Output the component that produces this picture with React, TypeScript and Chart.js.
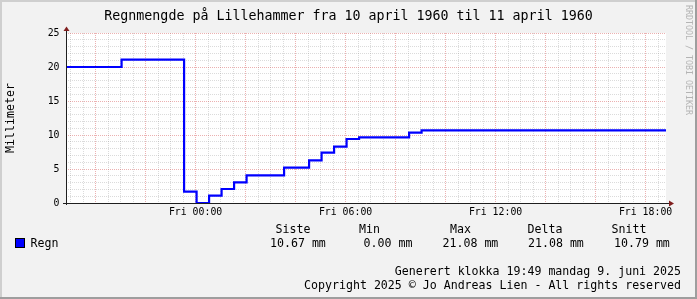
import React, { useEffect, useRef } from 'react';
import { Chart, registerables } from 'chart.js';

Chart.register(...registerables);

// ---------- data ----------
const title = 'Regnmengde på Lillehammer fra 10 april 1960 til 11 april 1960';
const yAxisTitle = 'Millimeter';
const seriesName = 'Regn';
// hours relative to Fri 00:00 at which each value starts
const stepHours = [-5.1833, -2.96, -0.46, 0.04, 0.54, 1.04, 1.54, 2.04, 3.54, 4.54, 5.04, 5.54, 6.04, 6.54, 8.54, 9.04, 18.8167];
const rainMm = [20.0, 21.08, 1.66, 0.0, 1.07, 2.06, 3.04, 4.07, 5.19, 6.28, 7.4, 8.28, 9.41, 9.65, 10.35, 10.67, 10.67];
const xLabelHours = [0, 6, 12, 18];
const xLabels = ['Fri 00:00', 'Fri 06:00', 'Fri 12:00', 'Fri 18:00'];
const yLabelValues = [0, 5, 10, 15, 20, 25];
const yLabels = ['0', '5', '10', '15', '20', '25'];
const legendHeaders = ['Siste', 'Min', 'Max', 'Delta', 'Snitt'];
const legendValues = ['10.67 mm', '0.00 mm', '21.08 mm', '21.08 mm', '10.79 mm'];
const footerLines = [
  'Generert klokka 19:49 mandag 9. juni 2025',
  'Copyright 2025 © Jo Andreas Lien - All rights reserved',
];
const watermark = 'RRDTOOL / TOBI OETIKER';

// ---------- layout / style ----------
const W = 697;
const H = 299;
const X_MIN = -5.1833;
const X_MAX = 18.8167;
const FONT = '"DejaVu Sans Mono", monospace';
const BACK = '#f2f2f2';
const SHADEA = '#cfcfcf';
const SHADEB = '#9e9e9e';
const GRID = 'rgba(143,143,143,0.32)';
const MGRID = 'rgba(210,70,70,0.42)';
const AXIS = '#1f1f1f';
const ARROW = '#801f1f';
const LINE = '#0000ff';

const headerX = [275.5, 359, 450, 527.5, 611.5];
const valueX = [270, 363.5, 442.5, 528, 614];

const decor = {
  id: 'rrdDecor',
  beforeDraw(chart: any) {
    const { ctx, chartArea: a } = chart;
    ctx.save();
    ctx.fillStyle = BACK;
    ctx.fillRect(0, 0, W, H);
    ctx.fillStyle = SHADEA;
    ctx.fillRect(0, 0, W, 2);
    ctx.fillRect(0, 0, 2, H);
    ctx.fillStyle = SHADEB;
    ctx.fillRect(0, H - 2, W, 2);
    ctx.fillRect(W - 2, 0, 2, H);
    ctx.fillStyle = '#ffffff';
    ctx.fillRect(a.left, a.top, a.right - a.left, a.bottom - a.top);
    ctx.restore();
  },
  afterDraw(chart: any) {
    const { ctx, chartArea: a } = chart;
    ctx.save();
    // axes
    ctx.strokeStyle = AXIS;
    ctx.lineWidth = 1;
    ctx.beginPath();
    ctx.moveTo(a.left + 0.5, a.bottom + 2);
    ctx.lineTo(a.left + 0.5, a.top - 4);
    ctx.moveTo(a.left - 3, a.bottom + 0.5);
    ctx.lineTo(a.right + 4, a.bottom + 0.5);
    ctx.stroke();
    // arrows
    ctx.fillStyle = ARROW;
    ctx.beginPath();
    ctx.moveTo(a.left + 0.5, a.top - 6.5);
    ctx.lineTo(a.left - 2.5, a.top - 2);
    ctx.lineTo(a.left + 3.5, a.top - 2);
    ctx.closePath();
    ctx.fill();
    ctx.beginPath();
    ctx.moveTo(a.right + 8, a.bottom + 0.5);
    ctx.lineTo(a.right + 3, a.bottom - 2.5);
    ctx.lineTo(a.right + 3, a.bottom + 3.5);
    ctx.closePath();
    ctx.fill();

    ctx.fillStyle = '#000';
    ctx.textBaseline = 'alphabetic';
    // title
    ctx.font = `13.3px ${FONT}`;
    ctx.textAlign = 'center';
    ctx.fillText(title, W / 2, 20);
    // y axis title
    ctx.save();
    ctx.font = `11.6px ${FONT}`;
    ctx.translate(10.5, (a.top + a.bottom) / 2);
    ctx.rotate(-Math.PI / 2);
    ctx.textBaseline = 'middle';
    ctx.textAlign = 'center';
    ctx.fillText(yAxisTitle, 0, 0);
    ctx.restore();
    // legend
    ctx.font = `11.6px ${FONT}`;
    ctx.textAlign = 'left';
    legendHeaders.forEach((t, i) => ctx.fillText(t, headerX[i], 233));
    legendValues.forEach((t, i) => ctx.fillText(t, valueX[i], 247));
    ctx.fillStyle = '#000';
    ctx.fillRect(15, 238, 10, 10);
    ctx.fillStyle = LINE;
    ctx.fillRect(16, 239, 8, 8);
    ctx.fillStyle = '#000';
    ctx.fillText(seriesName, 30.5, 247);
    // footer
    ctx.textAlign = 'right';
    ctx.fillText(footerLines[0], 681, 275);
    ctx.fillText(footerLines[1], 681, 289);
    // watermark
    ctx.save();
    ctx.font = `8.3px ${FONT}`;
    ctx.fillStyle = '#b4b4b4';
    ctx.translate(688.5, 5);
    ctx.rotate(Math.PI / 2);
    ctx.textAlign = 'left';
    ctx.textBaseline = 'middle';
    ctx.fillText(watermark, 0, 0);
    ctx.restore();
    ctx.restore();
  },
};

export default function App() {
  const ref = useRef<HTMLCanvasElement>(null);
  useEffect(() => {
    const points = stepHours.map((h, i) => ({ x: h, y: rainMm[i] }));
    const chart = new Chart(ref.current as HTMLCanvasElement, {
      type: 'line',
      data: {
        datasets: [
          {
            label: seriesName,
            data: points,
            borderColor: LINE,
            backgroundColor: LINE,
            borderWidth: 2.2,
            stepped: 'before',
            pointRadius: 0,
            fill: false,
            tension: 0,
          },
        ],
      },
      options: {
        animation: false,
        responsive: false,
        maintainAspectRatio: false,
        devicePixelRatio: 1,
        layout: { padding: { left: 0, top: 33, right: 31, bottom: 0 } },
        plugins: {
          legend: { display: false },
          tooltip: { enabled: false },
          title: { display: false },
        },
        scales: {
          x: {
            type: 'linear',
            min: X_MIN,
            max: X_MAX,
            afterBuildTicks: (s: any) => {
              const t: any[] = [];
              for (let h = -5; h <= 18.5; h += 0.5) t.push({ value: h });
              s.ticks = t;
            },
            afterFit: (s: any) => {
              s.height = H - 203;
            },
            grid: {
              drawTicks: false,
              lineWidth: 1,
              color: (c: any) => {
                const v = c.tick ? c.tick.value : 1;
                return Math.abs(v % 2) < 1e-6 ? MGRID : GRID;
              },
            },
            border: { display: false, dash: [1, 1] },
            ticks: {
              autoSkip: false,
              maxRotation: 0,
              minRotation: 0,
              padding: 4,
              color: '#000',
              font: { family: FONT, size: 9.85 },
              callback: (v: any) => {
                const i = xLabelHours.indexOf(Number(v));
                return i >= 0 ? xLabels[i] : '';
              },
            },
          },
          y: {
            type: 'linear',
            min: 0,
            max: 25,
            afterBuildTicks: (s: any) => {
              const t: any[] = [];
              for (let v = 0; v <= 25; v += 1) t.push({ value: v });
              s.ticks = t;
            },
            afterFit: (s: any) => {
              s.width = 66;
            },
            grid: {
              drawTicks: false,
              lineWidth: 1,
              color: (c: any) => {
                const v = c.tick ? c.tick.value : 1;
                return v % 5 === 0 ? MGRID : GRID;
              },
            },
            border: { display: false, dash: [1, 1] },
            ticks: {
              autoSkip: false,
              padding: 6.5,
              color: '#000',
              font: { family: FONT, size: 9.85 },
              callback: (v: any) => {
                const i = yLabelValues.indexOf(Number(v));
                return i >= 0 ? yLabels[i] : '';
              },
            },
          },
        },
      },
      plugins: [decor],
    } as any);
    return () => chart.destroy();
  }, []);
  return (
    <div style={{ position: 'absolute', left: 0, top: 0, width: W, height: H }}>
      <canvas ref={ref} width={W} height={H} style={{ display: 'block', width: W, height: H }} />
    </div>
  );
}
